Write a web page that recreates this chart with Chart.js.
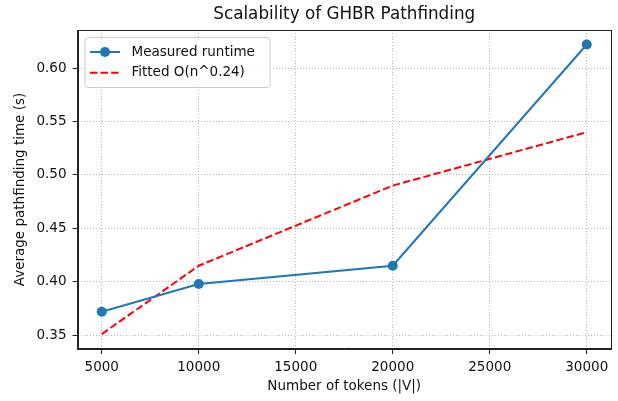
<!DOCTYPE html>
<html>
<head>
<meta charset="utf-8">
<script src="https://cdn.jsdelivr.net/npm/chart.js@4/dist/chart.umd.min.js"></script>
<style>
  html, body { margin: 0; padding: 0; background: #ffffff; }
  #wrap { width: 618px; height: 401px; }
</style>
</head>
<body>
<div id="wrap"><canvas id="c" width="618" height="401"></canvas></div>
<script>
// ---- data ----
const tokens = [5000, 10000, 20000, 30000];
const measuredRuntime = [0.372, 0.398, 0.415, 0.622];
const fittedRuntime = [0.351, 0.415, 0.490, 0.540];
const xTickValues = [5000, 10000, 15000, 20000, 25000, 30000];
const yTickValues = [0.35, 0.40, 0.45, 0.50, 0.55, 0.60];
const seriesNames = ['Measured runtime', 'Fitted O(n^0.24)'];
const chartTitle = 'Scalability of GHBR Pathfinding';
const xTitle = 'Number of tokens (|V|)';
const yTitle = 'Average pathfinding time (s)';

const FONT = "'DejaVu Sans', 'Liberation Sans', sans-serif";
const BLUE = '#1f77b4';
const RED = '#ff0000';

const frameAndLegend = {
  id: 'frameAndLegend',
  afterDraw(chart) {
    const ctx = chart.ctx;
    const a = chart.chartArea;
    ctx.save();
    // spines
    ctx.strokeStyle = '#222';
    ctx.lineWidth = 1;
    ctx.strokeRect(Math.round(a.left) + 0.5, Math.round(a.top) + 0.5,
      Math.round(a.right - a.left) - 1, Math.round(a.bottom - a.top) - 1);
    // legend box
    const bx = a.left + 7.5, by = a.top + 7.5, bw = 185, bh = 50, r = 3;
    ctx.beginPath();
    ctx.moveTo(bx + r, by);
    ctx.lineTo(bx + bw - r, by);
    ctx.quadraticCurveTo(bx + bw, by, bx + bw, by + r);
    ctx.lineTo(bx + bw, by + bh - r);
    ctx.quadraticCurveTo(bx + bw, by + bh, bx + bw - r, by + bh);
    ctx.lineTo(bx + r, by + bh);
    ctx.quadraticCurveTo(bx, by + bh, bx, by + bh - r);
    ctx.lineTo(bx, by + r);
    ctx.quadraticCurveTo(bx, by, bx + r, by);
    ctx.closePath();
    ctx.fillStyle = 'rgba(255,255,255,0.8)';
    ctx.fill();
    ctx.strokeStyle = '#cccccc';
    ctx.stroke();

    const lx1 = bx + 5, lx2 = bx + 35, tx = bx + 46.5;
    const y1 = by + 14.5, y2 = by + 35.3;
    // row 1
    ctx.strokeStyle = BLUE;
    ctx.lineWidth = 2;
    ctx.setLineDash([]);
    ctx.beginPath(); ctx.moveTo(lx1, y1); ctx.lineTo(lx2, y1); ctx.stroke();
    ctx.fillStyle = BLUE;
    ctx.beginPath(); ctx.arc((lx1 + lx2) / 2, y1, 5, 0, Math.PI * 2); ctx.fill();
    // row 2
    ctx.strokeStyle = RED;
    ctx.setLineDash([7.4, 3.2]);
    ctx.beginPath(); ctx.moveTo(lx1, y2); ctx.lineTo(lx2, y2); ctx.stroke();
    ctx.setLineDash([]);
    ctx.fillStyle = '#111';
    ctx.font = '13.5px ' + FONT;
    ctx.textBaseline = 'middle';
    ctx.textAlign = 'left';
    ctx.fillText(seriesNames[0], tx, y1);
    ctx.fillText(seriesNames[1], tx, y2);
    ctx.restore();
  }
};

new Chart(document.getElementById('c'), {
  type: 'line',
  data: {
    datasets: [
      {
        label: seriesNames[0],
        data: tokens.map((t, i) => ({ x: t, y: measuredRuntime[i] })),
        borderColor: BLUE,
        backgroundColor: BLUE,
        borderWidth: 2,
        pointRadius: 5,
        pointHoverRadius: 5,
        pointBorderWidth: 0,
        tension: 0,
        fill: false
      },
      {
        label: seriesNames[1],
        data: tokens.map((t, i) => ({ x: t, y: fittedRuntime[i] })),
        borderColor: RED,
        backgroundColor: RED,
        borderWidth: 2,
        borderDash: [7.4, 3.2],
        pointRadius: 0,
        tension: 0,
        fill: false
      }
    ]
  },
  options: {
    responsive: false,
    animation: false,
    events: [],
    layout: { padding: { top: 0, right: 7, bottom: 0, left: 0 } },
    plugins: {
      legend: { display: false },
      tooltip: { enabled: false },
      title: {
        display: true,
        text: chartTitle,
        fullSize: false,
        color: '#111',
        font: { family: FONT, size: 16.8, weight: 'normal' },
        padding: { top: 5, bottom: 4.84 }
      }
    },
    scales: {
      x: {
        type: 'linear',
        min: 3750,
        max: 31250,
        afterBuildTicks: s => { s.ticks = xTickValues.map(v => ({ value: v })); },
        afterFit: s => { s.height = 52; },
        ticks: {
          color: '#111',
          font: { family: FONT, size: 13.5 },
          padding: 5,
          maxRotation: 0,
          autoSkip: false,
          callback: v => String(v)
        },
        grid: {
          color: '#b8b8b8',
          lineWidth: 1,
          tickColor: '#222',
          tickLength: 5,
          tickBorderDash: []
        },
        border: { display: true, color: '#222', width: 1, dash: [1, 2] },
        title: {
          display: true,
          text: xTitle,
          color: '#111',
          font: { family: FONT, size: 13.5 },
          padding: { top: 0, bottom: 6 }
        }
      },
      y: {
        type: 'linear',
        min: 0.3371,
        max: 0.6356,
        afterBuildTicks: s => { s.ticks = yTickValues.map(v => ({ value: v })); },
        afterFit: s => { s.width = 77.5; },
        ticks: {
          color: '#111',
          font: { family: FONT, size: 13.5 },
          padding: 6,
          autoSkip: false,
          callback: v => Number(v).toFixed(2)
        },
        grid: {
          color: '#b8b8b8',
          lineWidth: 1,
          tickColor: '#222',
          tickLength: 5,
          tickBorderDash: []
        },
        border: { display: true, color: '#222', width: 1, dash: [1, 2] },
        title: {
          display: true,
          text: yTitle,
          color: '#111',
          font: { family: FONT, size: 13.5 },
          padding: { top: 12.4, bottom: 0 }
        }
      }
    }
  },
  plugins: [frameAndLegend]
});
</script>
</body>
</html>
